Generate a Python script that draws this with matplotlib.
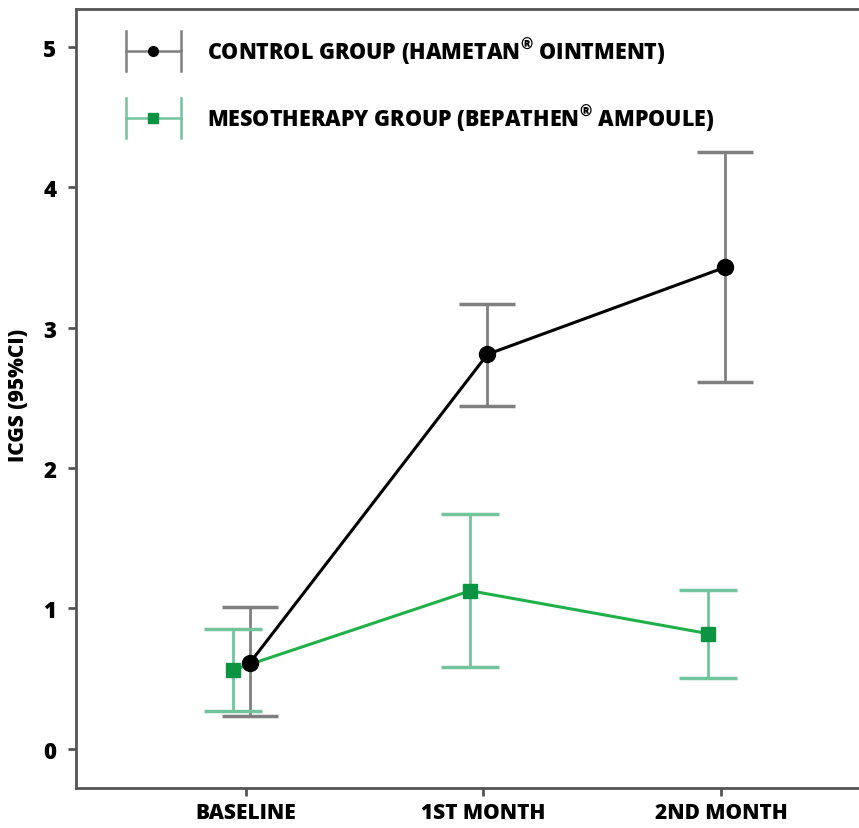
import matplotlib
matplotlib.use("Agg")
import matplotlib.pyplot as plt
import numpy as np

categories = ["BASELINE", "1ST MONTH", "2ND MONTH"]
control_mean = [0.61, 2.81, 3.43]
control_low = [0.235, 2.44, 2.61]
control_high = [1.01, 3.17, 4.25]
meso_mean = [0.56, 1.125, 0.82]
meso_low = [0.27, 0.585, 0.505]
meso_high = [0.85, 1.67, 1.13]
yticks = [0, 1, 2, 3, 4, 5]
labels = ["CONTROL GROUP (HAMETAN$^{®}$ OINTMENT)",
          "MESOTHERAPY GROUP (BEPATHEN$^{®}$ AMPOULE)"]

plt.rcParams['font.family'] = ['Open Sans', 'DejaVu Sans']
plt.rcParams['mathtext.default'] = 'regular'
W = 'heavy'

fig = plt.figure(figsize=(8.59, 8.29), dpi=100)
ax = fig.add_axes([76/859, 40/829, 1 - 76/859, 779/829])

x = np.arange(len(categories))
ctrl_color = "black"
ctrl_err = "#7f7f7f"
meso_line = "#1fb04a"
meso_err = "#72c49c"
meso_mark = "#0c9443"

cm = np.array(control_mean)
mm = np.array(meso_mean)
ax.errorbar(x + 0.017, cm, yerr=[cm - np.array(control_low), np.array(control_high) - cm],
            fmt='none', ecolor=ctrl_err, elinewidth=2, capsize=20, capthick=2.5, zorder=2)
ax.errorbar(x - 0.055, mm, yerr=[mm - np.array(meso_low), np.array(meso_high) - mm],
            fmt='none', ecolor=meso_err, elinewidth=2, capsize=21, capthick=2.5, zorder=2)
ax.plot(x + 0.017, cm, color=ctrl_color, lw=2.2, marker='o', ms=11.5, zorder=4)
ax.plot(x - 0.055, mm, color=meso_line, lw=2.2, marker='s', ms=10,
        mfc=meso_mark, mec=meso_mark, zorder=3)

ax.set_xlim(-0.714, 2.58)
ax.set_ylim(-0.28, 5.27)
ax.set_xticks(x)
ax.set_xticklabels(categories, fontweight=W, fontsize=15)
ax.set_yticks(yticks)
ax.set_yticklabels([str(t) for t in yticks], fontweight=W, fontsize=16)
ax.spines['right'].set_visible(False)
for s in ['left', 'bottom', 'top']:
    ax.spines[s].set_color('#555555')
    ax.spines[s].set_linewidth(2)
ax.tick_params(axis='both', direction='out', length=6, width=2, color='#555555', pad=8)
ax.tick_params(axis='x', pad=4)

def fx(px):
    return px / 859
def fy(py):
    return 1 - py / 829

fig.text(fx(19), fy(395), "ICGS (95%CI)", fontweight=W, fontsize=15, rotation=90,
         ha='center', va='center')

# legend glyphs
leg = [(52, ctrl_err, ctrl_color, 'o', 7), (119, meso_err, meso_mark, 's', 6.5)]
for (py, ec, mc, mk, ms), lab in zip(leg, labels):
    fig.add_artist(plt.Line2D([fx(126), fx(181)], [fy(py), fy(py)], color=ec, lw=1.8,
                              transform=fig.transFigure))
    for px in (126, 181):
        fig.add_artist(plt.Line2D([fx(px), fx(px)], [fy(py - 20), fy(py + 20)], color=ec, lw=1.8,
                                  transform=fig.transFigure))
    fig.add_artist(plt.Line2D([fx(153)], [fy(py)], marker=mk, ms=ms, color=mc, mfc=mc, mec=mc,
                              transform=fig.transFigure))
    fig.text(fx(207), fy(py), lab, fontsize=15.5, fontweight=W, va='center', ha='left')

fig.savefig("out.png", dpi=100)
